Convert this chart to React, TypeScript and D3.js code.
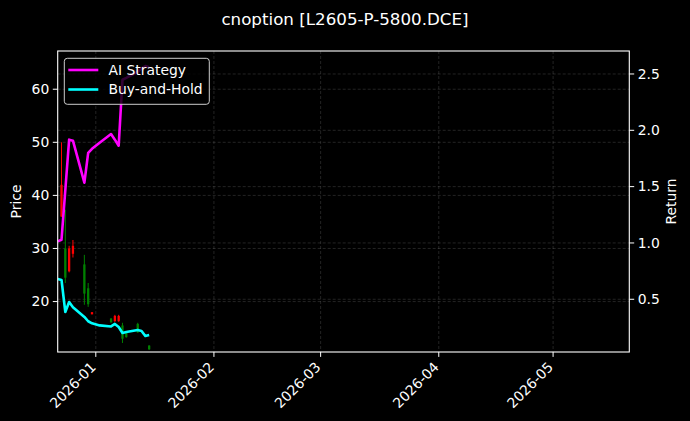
import React from "react";
import * as d3 from "d3";

const candleDates = ["2025-12-23","2025-12-24","2025-12-25","2025-12-26","2025-12-29","2025-12-30","2025-12-31","2026-01-05","2026-01-06","2026-01-07","2026-01-08","2026-01-09","2026-01-12","2026-01-15"];
const openP = [42, 24.5, 30, 30.5, 21.5, 19.5, 18, 16.1, 17.3, 17.3, 13, 13.3, 14.2, 11];
const closeP = [36, 30, 25.7, 29, 27, 22.5, 17.6, 16.8, 16.3, 16.3, 15.5, 14.3, 15.8, 11.7];
const highP = [50, 37.3, 30.5, 31.6, 28.8, 23.5, 18, 16.9, 17.5, 17.5, 16, 14.4, 16, 11.8];
const lowP = [36, 23.5, 25.5, 28.3, 19.4, 19, 17.6, 16, 16.2, 16.2, 12.2, 13.2, 14.1, 10.9];

const lineDates = ["2025-12-22","2025-12-23","2025-12-24","2025-12-25","2025-12-26","2025-12-29","2025-12-30","2025-12-31","2026-01-02","2026-01-05","2026-01-06","2026-01-07","2026-01-08","2026-01-09","2026-01-12","2026-01-13","2026-01-14","2026-01-15"];
const aiStrategy = [1.014, 1.029, 1.47, 1.917, 1.908, 1.535, 1.80, 1.836, 1.89, 1.967, 1.917, 1.863, 2.449, 2.466, 2.52, 2.55, 2.57, 2.56];
const buyHold = [0.68, 0.671, 0.387, 0.476, 0.43, 0.343, 0.305, 0.287, 0.268, 0.259, 0.281, 0.254, 0.201, 0.21, 0.228, 0.219, 0.174, 0.183];

const priceTicks = [20, 30, 40, 50, 60];
const returnTicks = [0.5, 1.0, 1.5, 2.0, 2.5];
const xTickDates = ["2026-01-01","2026-02-01","2026-03-01","2026-04-01","2026-05-01"];
const xTickLabels = ["2026-01","2026-02","2026-03","2026-04","2026-05"];

const W = 690, H = 421;
const L = 57.7, R = 629.3, T = 51, B = 352;
const font = "DejaVu Sans, sans-serif";

const parse = (s: string) => new Date(s + "T00:00:00");

export default function App() {
  const x = d3.scaleTime().domain([parse("2025-12-22"), parse("2026-05-21")]).range([L, R]);
  const yP = d3.scaleLinear().domain([10.5, 67.2]).range([B, T]);
  const yR = d3.scaleLinear().domain([0.032, 2.704]).range([B, T]);
  const dayPx = x(parse("2026-01-02")) - x(parse("2026-01-01"));
  const bodyW = dayPx * 0.6;

  const lineGen = (vals: number[]) =>
    d3.line<number>().x((_, i) => x(parse(lineDates[i]))).y((v) => yR(v))(vals) || "";

  return (
    <svg width={W} height={H} style={{ display: "block", position: "absolute", left: 0, top: 0, background: "#000" }}>
      <rect x={0} y={0} width={W} height={H} fill="#000" />
      <defs>
        <clipPath id="plot"><rect x={L} y={T} width={R - L} height={B - T} /></clipPath>
      </defs>
      {/* grids */}
      <g stroke="#ffffff" strokeOpacity={0.2} strokeWidth={0.7} strokeDasharray="3,2">
        {xTickDates.map((d) => (
          <line key={d} x1={x(parse(d))} x2={x(parse(d))} y1={T} y2={B} />
        ))}
        {priceTicks.map((t) => (
          <line key={"p" + t} x1={L} x2={R} y1={yP(t)} y2={yP(t)} />
        ))}
        {returnTicks.map((t) => (
          <line key={"r" + t} x1={L} x2={R} y1={yR(t)} y2={yR(t)} />
        ))}
      </g>
      {/* candles */}
      <g clipPath="url(#plot)">
        {candleDates.map((d, i) => {
          const cx = x(parse(d));
          const up = closeP[i] >= openP[i];
          const col = up ? "#008000" : "#ff0000";
          const top = yP(Math.max(openP[i], closeP[i]));
          const bot = yP(Math.min(openP[i], closeP[i]));
          return (
            <g key={d}>
              <line x1={cx} x2={cx} y1={yP(highP[i])} y2={yP(lowP[i])} stroke={col} strokeWidth={1} />
              <rect x={cx - bodyW / 2} y={top} width={bodyW} height={Math.max(bot - top, 0.8)} fill={col} />
            </g>
          );
        })}
        <path d={lineGen(aiStrategy)} fill="none" stroke="#ff00ff" strokeWidth={2.6} strokeLinejoin="round" />
        <path d={lineGen(buyHold)} fill="none" stroke="#00ffff" strokeWidth={2.6} strokeLinejoin="round" />
      </g>
      {/* spines */}
      <rect x={L} y={T} width={R - L} height={B - T} fill="none" stroke="#ffffff" strokeWidth={1.1} />
      {/* x ticks */}
      {xTickDates.map((d, i) => {
        const tx = x(parse(d));
        return (
          <g key={d}>
            <line x1={tx} x2={tx} y1={B} y2={B + 4.9} stroke="#fff" strokeWidth={1} />
            <text x={tx + 1} y={B + 16} fill="#fff" fontSize={13.9} fontFamily={font} textAnchor="end"
              transform={`rotate(-45, ${tx + 1}, ${B + 16})`}>{xTickLabels[i]}</text>
          </g>
        );
      })}
      {/* left ticks */}
      {priceTicks.map((t) => (
        <g key={"lp" + t}>
          <line x1={L - 4.9} x2={L} y1={yP(t)} y2={yP(t)} stroke="#fff" strokeWidth={1} />
          <text x={L - 8.4} y={yP(t)} dy="0.35em" fill="#fff" fontSize={13.9} fontFamily={font} textAnchor="end">{t}</text>
        </g>
      ))}
      {/* right ticks */}
      {returnTicks.map((t) => (
        <g key={"rr" + t}>
          <line x1={R} x2={R + 4.9} y1={yR(t)} y2={yR(t)} stroke="#fff" strokeWidth={1} />
          <text x={R + 8.4} y={yR(t)} dy="0.35em" fill="#fff" fontSize={13.9} fontFamily={font} textAnchor="start">{t.toFixed(1)}</text>
        </g>
      ))}
      {/* axis labels */}
      <text x={21} y={(T + B) / 2} fill="#fff" fontSize={13.9} fontFamily={font} textAnchor="middle"
        transform={`rotate(-90, 21, ${(T + B) / 2})`}>Price</text>
      <text x={676} y={(T + B) / 2} fill="#fff" fontSize={13.9} fontFamily={font} textAnchor="middle"
        transform={`rotate(-90, 676, ${(T + B) / 2})`}>Return</text>
      {/* title */}
      <text x={W / 2} y={25} fill="#fff" fontSize={16.7} fontFamily={font} textAnchor="middle">cnoption [L2605-P-5800.DCE]</text>
      {/* legend */}
      <g>
        <rect x={64.3} y={58.3} width={145} height={46} rx={3} fill="#000" fillOpacity={0.8} stroke="#cccccc" strokeWidth={1} />
        <line x1={68.3} x2={98.3} y1={70} y2={70} stroke="#ff00ff" strokeWidth={2.6} />
        <line x1={68.3} x2={98.3} y1={89.5} y2={89.5} stroke="#00ffff" strokeWidth={2.6} />
        <text x={108.5} y={70} dy="0.35em" fill="#fff" fontSize={13.9} fontFamily={font}>AI Strategy</text>
        <text x={108.5} y={89.5} dy="0.35em" fill="#fff" fontSize={13.9} fontFamily={font}>Buy-and-Hold</text>
      </g>
    </svg>
  );
}
